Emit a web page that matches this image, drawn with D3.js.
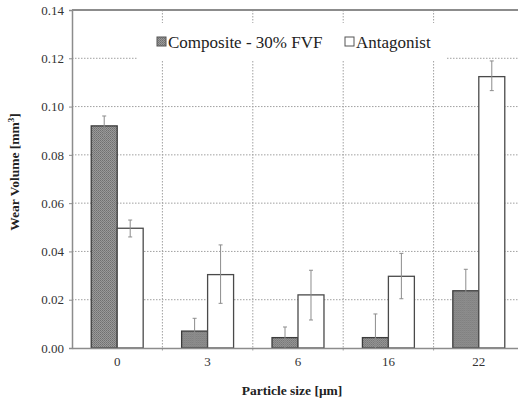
<!DOCTYPE html>
<html><head><meta charset="utf-8">
<script src="https://cdn.jsdelivr.net/npm/d3@7"></script>
</head><body style="margin:0;background:#fff">
<svg id="c" width="518" height="400" style="display:block"></svg>
<script>
const categories = ["0","3","6","16","22"];
const seriesNames = ["Composite - 30% FVF","Antagonist"];
const composite = [0.092,0.0070,0.0043,0.0043,0.0237];
const compositeLow = [0.088,0.0019,0.0000,-0.005,0.0144];
const compositeHigh = [0.0961,0.0123,0.0087,0.0141,0.0326];
const antagonist = [0.0496,0.0304,0.0220,0.0297,0.1124];
const antagonistLow = [0.046,0.0185,0.0116,0.0204,0.1066];
const antagonistHigh = [0.053,0.0427,0.0322,0.0392,0.1189];
const yTicks = [0,0.02,0.04,0.06,0.08,0.10,0.12,0.14];

const FONT = "'Liberation Serif'";
const svg = d3.select("#c");
const L=72, R=524, T=10, B=348;
const x0 = d3.scaleBand().domain(categories).range([L,R]).padding(0);
const x1 = d3.scaleBand().domain(seriesNames).range([0,x0.bandwidth()]).paddingInner(0).paddingOuter(0.74);
const y = d3.scaleLinear().domain([0,0.14]).range([B,T]);

const defs = svg.append("defs");
const pat = defs.append("pattern").attr("id","stip").attr("width",2).attr("height",2).attr("patternUnits","userSpaceOnUse");
pat.append("rect").attr("width",2).attr("height",2).attr("fill","#9a9a9a");
pat.append("rect").attr("width",1).attr("height",1).attr("fill","#707070");
pat.append("rect").attr("x",1).attr("y",1).attr("width",1).attr("height",1).attr("fill","#7c7c7c");

// horizontal gridlines
svg.append("g").selectAll("line").data(yTicks.filter(d=>d>0 && d<0.14)).join("line")
  .attr("x1",L).attr("x2",518).attr("y1",d=>y(d)).attr("y2",d=>y(d))
  .attr("stroke","#a0a0a0").attr("stroke-width",1).attr("stroke-dasharray","1.5,1.5");
// vertical gridlines at category boundaries
svg.append("g").selectAll("line").data(categories.slice(1)).join("line")
  .attr("x1",d=>x0(d)).attr("x2",d=>x0(d)).attr("y1",T).attr("y2",B+3)
  .attr("stroke","#a0a0a0").attr("stroke-width",1).attr("stroke-dasharray","1.5,1.5");

// top border
svg.append("line").attr("x1",L).attr("x2",518).attr("y1",T).attr("y2",T).attr("stroke","#8c8c8c").attr("stroke-width",2);

// legend background
svg.append("rect").attr("x",137).attr("y",23).attr("width",309).attr("height",37).attr("fill","#fff");

// bars
const data = categories.map((c,i)=>({c, vals:[
  {s:seriesNames[0], v:composite[i], lo:compositeLow[i], hi:compositeHigh[i]},
  {s:seriesNames[1], v:antagonist[i], lo:antagonistLow[i], hi:antagonistHigh[i]}]}));
const g = svg.append("g").selectAll("g").data(data).join("g").attr("transform",d=>`translate(${x0(d.c)},0)`);
g.selectAll("rect").data(d=>d.vals).join("rect")
  .attr("x",d=>x1(d.s)).attr("width",x1.bandwidth())
  .attr("y",d=>y(d.v)).attr("height",d=>B-y(d.v))
  .attr("fill",(d,i)=>i===0?"url(#stip)":"#fff")
  .attr("stroke",(d,i)=>i===0?"#3c3c3c":"#4a4a4a").attr("stroke-width",1.3);
// error bars
const eb = g.selectAll("g.eb").data(d=>d.vals).join("g").attr("class","eb");
eb.append("line").attr("x1",d=>x1(d.s)+x1.bandwidth()/2).attr("x2",d=>x1(d.s)+x1.bandwidth()/2)
  .attr("y1",d=>y(d.hi)).attr("y2",d=>Math.min(y(d.lo),B)).attr("stroke","#8c8c8c").attr("stroke-width",1);
eb.append("line").attr("x1",d=>x1(d.s)+x1.bandwidth()/2-2).attr("x2",d=>x1(d.s)+x1.bandwidth()/2+2)
  .attr("y1",d=>y(d.hi)).attr("y2",d=>y(d.hi)).attr("stroke","#8c8c8c").attr("stroke-width",1);
eb.filter(d=>d.lo>0).append("line").attr("x1",d=>x1(d.s)+x1.bandwidth()/2-2).attr("x2",d=>x1(d.s)+x1.bandwidth()/2+2)
  .attr("y1",d=>y(d.lo)).attr("y2",d=>y(d.lo)).attr("stroke","#8c8c8c").attr("stroke-width",1);

// y axis
const ya = svg.append("g").attr("transform",`translate(${L},0)`)
  .call(d3.axisLeft(y).tickValues(yTicks).tickFormat(d3.format(".2f")).tickSize(3).tickPadding(5));
ya.select(".domain").attr("stroke","#8c8c8c").attr("stroke-width",1.5);
ya.selectAll(".tick line").attr("stroke","#8c8c8c");
ya.selectAll("text").attr("font-size",13).attr("fill","#333").style("font-family",FONT);

// x axis
const xa = svg.append("g").attr("transform",`translate(0,${B})`)
  .call(d3.axisBottom(x0).tickSize(0).tickPadding(9));
xa.select(".domain").attr("stroke","#8c8c8c").attr("stroke-width",1.5);
xa.selectAll("text").attr("font-size",13).attr("fill","#333").style("font-family",FONT);

// axis titles
svg.append("text").attr("x",292).attr("y",395).attr("text-anchor","middle").attr("font-weight","bold").attr("font-size",13.5).attr("fill","#222").style("font-family",FONT).text("Particle size [μm]");
svg.append("text").attr("transform","translate(19,172) rotate(-90)").attr("text-anchor","middle").attr("font-weight","bold").attr("font-size",13.5).attr("fill","#222").style("font-family",FONT)
  .html('Wear Volume [mm<tspan dy="-5" font-size="9">3</tspan><tspan dy="5">]</tspan>');

// legend
const lg = svg.append("g");
const legendItems = [{s:seriesNames[0], x:157, fill:"url(#stip)", stroke:"#555"},{s:seriesNames[1], x:345, fill:"#fff", stroke:"#555"}];
lg.selectAll("rect").data(legendItems).join("rect").attr("x",d=>d.x).attr("y",37).attr("width",9).attr("height",9)
  .attr("fill",d=>d.fill).attr("stroke",d=>d.stroke).attr("stroke-width",1);
lg.selectAll("text").data(legendItems).join("text").attr("x",d=>d.x+11).attr("y",47.5).attr("font-size",17).attr("fill","#222").style("font-family",FONT).text(d=>d.s);
</script>
</body></html>
